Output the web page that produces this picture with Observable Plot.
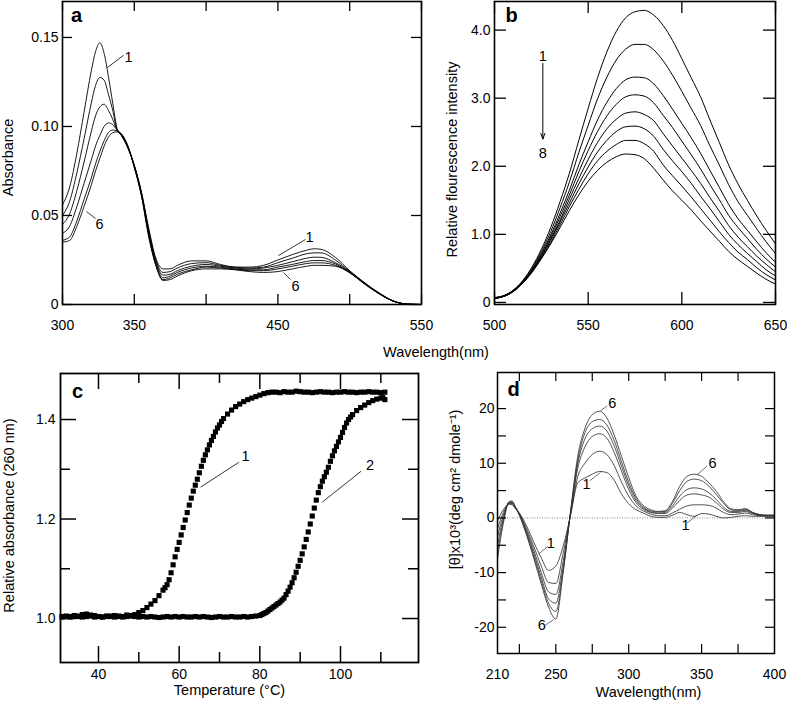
<!DOCTYPE html>
<html><head><meta charset="utf-8">
<script src="https://cdn.jsdelivr.net/npm/d3@7"></script>
<script src="https://cdn.jsdelivr.net/npm/@observablehq/plot@0.6"></script>
<style>
body{margin:0;background:#fff;}
#wrap{position:relative;width:787px;height:703px;overflow:hidden;font-family:"Liberation Sans",Arial,Helvetica,sans-serif;background:#fff;}
.pane{position:absolute;}
.pane svg{display:block;max-width:none;background:transparent;}
.lbl{position:absolute;font-size:14.5px;color:#000;white-space:nowrap;text-align:center;}
</style></head><body><div id="wrap"></div>
<script>
// ---------- Panel a : absorbance spectra (6 curves) ----------
const aWave = [300,305,310,315,320,323,326,329,332,335,338,341,345,350,355,360,365,370,375,380,390,400,410,420,430,440,450,460,470,475,480,490,500,510,520,530,540,550];
const a1 = [0.056,0.066,0.085,0.108,0.131,0.142,0.147,0.141,0.128,0.113,0.099,0.095,0.089,0.078,0.063,0.043,0.026,0.020,0.020,0.022,0.0245,0.0245,0.0225,0.021,0.021,0.022,0.025,0.028,0.0305,0.0313,0.031,0.0265,0.019,0.0125,0.0068,0.0022,0.0002,0];
const a2 = [0.050,0.058,0.074,0.093,0.113,0.123,0.1275,0.126,0.118,0.109,0.098,0.095,0.089,0.078,0.063,0.042,0.025,0.018,0.0185,0.0205,0.023,0.0235,0.022,0.021,0.0205,0.021,0.0235,0.026,0.0285,0.029,0.029,0.025,0.0185,0.0122,0.0066,0.0021,0.0002,0];
const a3 = [0.045,0.051,0.064,0.080,0.097,0.106,0.111,0.1125,0.109,0.104,0.098,0.095,0.089,0.078,0.062,0.041,0.024,0.0165,0.017,0.019,0.0215,0.0225,0.0215,0.0205,0.020,0.0205,0.022,0.024,0.026,0.0266,0.0265,0.0235,0.0185,0.012,0.0065,0.002,0.0002,0];
const a4 = [0.040,0.044,0.055,0.068,0.081,0.089,0.095,0.100,0.102,0.101,0.098,0.0955,0.090,0.078,0.062,0.040,0.023,0.015,0.016,0.018,0.0205,0.0215,0.021,0.020,0.0195,0.0195,0.021,0.0225,0.0242,0.0247,0.0247,0.0228,0.018,0.012,0.0064,0.002,0.0002,0];
const a5 = [0.036,0.038,0.047,0.059,0.071,0.079,0.086,0.092,0.0965,0.098,0.0975,0.096,0.090,0.077,0.061,0.039,0.022,0.014,0.015,0.017,0.0195,0.021,0.0205,0.0198,0.019,0.019,0.020,0.0215,0.023,0.0234,0.0234,0.022,0.018,0.0118,0.0063,0.002,0.0002,0];
const a6 = [0.035,0.036,0.044,0.055,0.067,0.075,0.082,0.089,0.094,0.0965,0.097,0.0955,0.090,0.077,0.061,0.038,0.022,0.0135,0.014,0.016,0.019,0.020,0.020,0.0195,0.0185,0.018,0.0185,0.020,0.0215,0.022,0.022,0.0215,0.0178,0.0117,0.0062,0.002,0.0002,0];
const aXTickLabels = [300,350,450,550];
const aXTicks = [300,350,400,450,500,550];
const aYTicks = [0,0.05,0.10,0.15];
const aNotes = [{x:346,y:0.1388,t:"1"},{x:325.8,y:0.045,t:"6"},{x:472,y:0.0376,t:"1"},{x:462.3,y:0.0101,t:"6"}];
const aLeaders = [{x1:331.3,y1:0.1331,x2:342.5,y2:0.140},{x1:316.7,y1:0.0522,x2:323,y2:0.0483},{x1:450.4,y1:0.0275,x2:469.2,y2:0.0365},{x1:453.9,y1:0.018,x2:458.8,y2:0.014}];

// ---------- Panel b : fluorescence spectra (8 curves) ----------
const bWave = [500,505,510,515,520,525,530,535,540,545,550,555,560,565,570,575,580,585,590,595,600,605,610,615,620,625,630,635,640,645,650];
const b1 = [0.07,0.10,0.18,0.32,0.52,0.78,1.10,1.48,1.90,2.38,2.85,3.30,3.68,3.98,4.18,4.27,4.29,4.22,4.07,3.85,3.58,3.30,3.02,2.68,2.35,2.02,1.74,1.50,1.27,1.06,0.86];
const b2 = [0.07,0.10,0.18,0.31,0.50,0.75,1.04,1.39,1.77,2.20,2.60,2.99,3.31,3.56,3.72,3.79,3.79,3.71,3.55,3.34,3.10,2.85,2.60,2.30,2.02,1.73,1.48,1.28,1.08,0.89,0.72];
const b3 = [0.07,0.10,0.17,0.30,0.48,0.72,0.99,1.31,1.65,2.02,2.36,2.68,2.94,3.14,3.27,3.31,3.30,3.21,3.04,2.84,2.63,2.42,2.19,1.94,1.69,1.44,1.23,1.06,0.89,0.73,0.59];
const b4 = [0.06,0.09,0.17,0.30,0.47,0.70,0.96,1.26,1.58,1.92,2.23,2.51,2.74,2.91,3.02,3.05,3.03,2.93,2.75,2.57,2.37,2.17,1.96,1.73,1.51,1.28,1.10,0.94,0.78,0.64,0.52];
const b5 = [0.06,0.09,0.17,0.29,0.46,0.68,0.93,1.21,1.52,1.82,2.10,2.35,2.55,2.69,2.78,2.80,2.76,2.67,2.48,2.30,2.12,1.94,1.75,1.54,1.34,1.13,0.96,0.82,0.68,0.56,0.45];
const b6 = [0.06,0.09,0.16,0.29,0.46,0.67,0.91,1.18,1.46,1.74,1.99,2.21,2.38,2.51,2.58,2.59,2.55,2.44,2.25,2.08,1.92,1.75,1.56,1.38,1.19,1.00,0.85,0.72,0.60,0.48,0.39];
const b7 = [0.06,0.09,0.16,0.28,0.45,0.65,0.88,1.14,1.41,1.66,1.89,2.08,2.22,2.32,2.38,2.38,2.33,2.22,2.02,1.86,1.71,1.55,1.38,1.21,1.04,0.88,0.74,0.63,0.51,0.41,0.33];
const b8 = [0.06,0.09,0.16,0.28,0.44,0.64,0.86,1.10,1.35,1.58,1.78,1.94,2.06,2.14,2.18,2.17,2.11,1.97,1.80,1.64,1.50,1.36,1.20,1.05,0.90,0.75,0.63,0.53,0.43,0.34,0.27];
const bXTicks = [500,550,600,650];
const bYTicks = [0,1,2,3,4];
const bNotes = [{x:525.8,y:3.62,t:"1"},{x:525.8,y:2.19,t:"8"}];
const bArrow = [{x:525.8,y1:3.51,y2:2.40}];

// ---------- Panel c : melting curves (2 series of squares) ----------
const c1T = [31,32,33,34,35,36,37,38,39,40,41,42,43,44,45,46,47,48,49,50,51,52,53,54,55,56,56.5,57,57.5,58,58.5,59,59.5,60,60.5,61,61.5,62,62.5,63,63.5,64,64.5,65,65.5,66,66.5,67,67.5,68,68.5,69,69.5,70,70.5,71,72,73,74,75,76,77,78,79,80,81,82,83,84,85,86,87,88,89,90,91,92,93,94,95,96,97,98,99,100,101,102,103,104,105,106,107,108,109,110,111];
const c1V = [1.004,1.005,1.004,1.006,1.005,1.008,1.009,1.007,1.006,1.004,1.003,1.005,1.004,1.006,1.005,1.004,1.007,1.006,1.008,1.012,1.016,1.022,1.029,1.036,1.046,1.057,1.062,1.068,1.078,1.092,1.108,1.124,1.139,1.153,1.168,1.183,1.198,1.213,1.228,1.242,1.256,1.268,1.280,1.293,1.306,1.318,1.329,1.339,1.349,1.358,1.366,1.375,1.383,1.389,1.396,1.402,1.411,1.419,1.426,1.431,1.436,1.440,1.443,1.446,1.449,1.452,1.454,1.455,1.455,1.454,1.456,1.455,1.455,1.457,1.456,1.455,1.455,1.454,1.455,1.456,1.455,1.455,1.454,1.455,1.455,1.456,1.455,1.455,1.454,1.455,1.455,1.456,1.455,1.455,1.454,1.455];
const c2T = [31,32,33,34,35,36,37,38,39,40,41,42,43,44,45,46,47,48,49,50,51,52,53,54,55,56,57,58,59,60,61,62,63,64,65,66,67,68,69,70,71,72,73,74,75,76,77,78,79,80,80.5,81,81.5,82,82.5,83,83.5,84,84.5,85,85.5,86,86.5,87,87.5,88,88.5,89,89.5,90,90.5,91,91.5,92,92.5,93,93.5,94,94.5,95,95.5,96,96.5,97,97.5,98,98.5,99,99.5,100,100.5,101,101.5,102,102.5,103,104,105,106,107,108,109,110,110.5,111];
const c2V = [1.003,1.004,1.003,1.005,1.004,1.003,1.004,1.005,1.003,1.004,1.003,1.004,1.005,1.003,1.004,1.003,1.004,1.005,1.004,1.003,1.004,1.003,1.004,1.003,1.002,1.003,1.004,1.003,1.004,1.003,1.004,1.003,1.003,1.004,1.003,1.004,1.003,1.002,1.003,1.004,1.003,1.003,1.004,1.003,1.003,1.004,1.003,1.004,1.005,1.006,1.008,1.010,1.012,1.015,1.018,1.021,1.024,1.027,1.030,1.033,1.037,1.041,1.048,1.055,1.063,1.072,1.082,1.093,1.105,1.117,1.130,1.144,1.159,1.174,1.190,1.206,1.222,1.238,1.253,1.265,1.276,1.285,1.294,1.304,1.316,1.327,1.337,1.346,1.355,1.364,1.374,1.384,1.393,1.400,1.405,1.410,1.418,1.424,1.429,1.434,1.438,1.441,1.443,1.444,1.440];
const cXTickLabels = [40,60,80,100];
const cXMinor = [50,70,90,110];
const cYTickLabels = [1.0,1.2,1.4];
const cYMinor = [1.1,1.3];
const cNotes = [{x:76.45,y:1.3266,t:"1"},{x:107.3,y:1.3075,t:"2"}];
const cLeaders = [{x1:65.3,y1:1.264,x2:74.8,y2:1.314},{x1:95.5,y1:1.234,x2:105.1,y2:1.296}];

// ---------- Panel d : CD spectra (6 curves) ----------
const dWave = [210,214,218,220,222,226,230,235,240,245,250,255,260,265,270,275,280,285,290,295,300,305,310,315,320,325,330,335,340,345,350,355,360,365,370,375,380,385,390,395,400];
const d1 = [-0.5,1.5,2.5,2.4,1.8,0.5,-1.5,-4.5,-7.3,-9.6,-8.8,-5.2,0.3,6.4,7.3,8.0,8.5,8.3,6.9,4.4,2.6,1.5,0.9,0.3,0.1,0.1,0.5,1.0,0.6,0.3,0.8,0.7,0.3,0.0,0.1,0.3,0.4,0.3,0.3,0.3,0.3];
const d2 = [-2.0,1.0,2.6,2.6,2.0,0.3,-2.0,-5.3,-8.8,-11.8,-12.0,-6.5,0.5,7.5,10.0,11.6,12.2,11.6,9.6,6.6,4.0,2.2,1.3,0.7,0.4,0.4,0.9,1.6,2.2,2.4,2.4,2.3,1.8,1.0,0.6,0.7,0.9,0.6,0.4,0.4,0.4];
const d3 = [-3.5,0.5,2.7,2.7,2.0,0.2,-2.4,-6.0,-10.0,-13.5,-14.0,-8.0,0.6,9.0,13.0,14.9,15.4,14.6,12.0,8.6,5.2,2.8,1.6,1.0,0.8,0.8,1.8,3.2,4.2,4.4,4.2,3.8,2.8,1.6,1.0,1.0,1.2,0.8,0.5,0.4,0.4];
const d4 = [-5.0,0.0,2.8,2.8,2.0,0.1,-2.7,-6.6,-10.8,-14.8,-15.6,-9.0,0.7,9.8,14.5,16.3,16.8,15.9,13.2,9.5,5.9,3.2,1.8,1.1,0.9,1.0,2.2,4.0,5.2,5.5,5.3,4.6,3.4,2.0,1.2,1.2,1.4,0.9,0.5,0.4,0.4];
const d5 = [-6.3,-0.5,2.9,3.0,2.1,0.0,-3.0,-7.1,-11.5,-15.6,-17.1,-9.8,0.8,10.5,15.6,17.6,18.0,17.0,14.2,10.3,6.5,3.6,2.0,1.3,1.1,1.2,2.7,5.0,6.7,7.1,6.8,5.8,4.3,2.7,1.5,1.3,1.6,1.0,0.6,0.5,0.5];
const d6 = [-7.5,-1.0,3.0,3.1,2.2,-0.2,-3.2,-7.5,-12.1,-16.3,-18.5,-10.0,1.0,11.2,16.4,18.9,19.5,18.3,15.2,11.3,7.4,4.0,2.3,1.5,1.2,1.3,3.0,5.8,7.6,8.0,7.6,6.4,4.9,3.0,1.7,1.5,1.7,1.0,0.6,0.5,0.5];
const dXTickLabels = [210,250,300,350,400];
const dXTicks = [225,250,275,300,325,350,375];
const dYTickLabels = [-20,-10,0,10,20];
const dYTicks = [-20,-15,-10,-5,0,5,10,15,20];
const dNotes = [{x:288.7,y:20.9,t:"6"},{x:357.5,y:9.9,t:"6"},{x:271,y:6.1,t:"1"},{x:246.6,y:-4.6,t:"1"},{x:240.4,y:-19.6,t:"6"},{x:338.9,y:-1.3,t:"1"}];
const dLeaders = [{x1:280.6,y1:19.6,x2:285.2,y2:20.5},{x1:347,y1:7.9,x2:353.8,y2:9.5},{x1:273.3,y1:6.8,x2:280.6,y2:8.3},{x1:238.3,y1:-6.6,x2:244.5,y2:-5.2},{x1:242.9,y1:-19.6,x2:248.6,y2:-18.6},{x1:340.1,y1:-0.9,x2:347,y2:0.5}];

// ---------- helpers ----------
const FONT = '"Liberation Sans", Arial, Helvetica, sans-serif';
function longify(xs, list) {
  const out = [];
  list.forEach((ys, k) => {
    if (ys.length !== xs.length) throw new Error("length mismatch in series " + (k + 1) + ": " + ys.length + " vs " + xs.length);
    ys.forEach((v, i) => out.push({x: xs[i], y: v, s: k + 1}));
  });
  return out;
}
function pairs(xs, ys) {
  if (xs.length !== ys.length) throw new Error("pair mismatch " + xs.length + " vs " + ys.length);
  return xs.map((x, i) => ({x, y: ys[i]}));
}
// inward ticks on all four sides, drawn as short rules through the scales
function inTicks(xt, yt, len, innerW, innerH, sw = 1.3) {
  return [
    Plot.ruleX(xt, {x: d => d, insetTop: innerH - len, strokeWidth: sw}),
    Plot.ruleX(xt, {x: d => d, insetBottom: innerH - len, strokeWidth: sw}),
    Plot.ruleY(yt, {y: d => d, insetRight: innerW - len, strokeWidth: sw}),
    Plot.ruleY(yt, {y: d => d, insetLeft: innerW - len, strokeWidth: sw})
  ];
}
function labelAxes(xl, xfmt, xpad, yl, yfmt, ypad) {
  return [
    Plot.axisX(xl, {anchor: "bottom", tickSize: 0, tickPadding: xpad, tickFormat: xfmt, fontSize: 14, label: null}),
    Plot.axisY(yl, {anchor: "left", tickSize: 0, tickPadding: ypad, tickFormat: yfmt, fontSize: 14, label: null})
  ];
}
const CENTER = {textAnchor: "middle", lineAnchor: "middle"};
function letter(ch, dx, dy) {
  return Plot.text([ch], {text: d => d, frameAnchor: "top-left", dx, dy, fontSize: 20, fontWeight: "bold", ...CENTER});
}
function ylabel(txt, dx, dy) {
  return Plot.text([txt], {text: d => d, frameAnchor: "left", rotate: -90, dx, dy, fontSize: 14.5, ...CENTER});
}
function xlabel(txt, dx, dy) {
  return Plot.text([txt], {text: d => d, frameAnchor: "bottom", dx, dy, fontSize: 14.5, ...CENTER});
}
const wrap = document.getElementById("wrap");
function place(node, left, top) {
  const d = document.createElement("div");
  d.className = "pane";
  d.style.left = left + "px"; d.style.top = top + "px";
  d.appendChild(node); wrap.appendChild(d);
}
const baseStyle = {fontFamily: FONT, fontSize: "14px", background: "transparent", overflow: "visible", color: "black"};

// ---------- Panel a ----------
{
  const W = 440, H = 345, mL = 62, mR = 19, mT = 1, mB = 41;
  const iw = W - mL - mR, ih = H - mT - mB;
  const data = longify(aWave, [a1, a2, a3, a4, a5, a6]);
  place(Plot.plot({
    width: W, height: H, marginLeft: mL, marginRight: mR, marginTop: mT, marginBottom: mB,
    style: baseStyle,
    x: {domain: [300, 550]}, y: {domain: [0, 0.1702]},
    marks: [
      Plot.line(data, {x: "x", y: "y", z: "s", curve: "monotone-x", stroke: "black", strokeWidth: 0.9}),
      Plot.link(aLeaders, {x1: "x1", y1: "y1", x2: "x2", y2: "y2", stroke: "black", strokeWidth: 0.8}),
      Plot.text(aNotes, {x: "x", y: "y", text: "t", fontSize: 14.5, ...CENTER}),
      ...inTicks(aXTicks, aYTicks, 10, iw, ih),
      ...labelAxes(aXTickLabels, d => String(d), 15.5, aYTicks, d => d === 0 ? "0" : d.toFixed(2), 4),
      ylabel("Absorbance", -54.5, 4.5),
      letter("a", 14, 14),
      Plot.frame({strokeWidth: 1.6})
    ]
  }), 0, 0);
}

// ---------- Panel b ----------
{
  const W = 357, H = 345, mL = 64, mR = 12, mT = 1, mB = 41;
  const iw = W - mL - mR, ih = H - mT - mB;
  const data = longify(bWave, [b1, b2, b3, b4, b5, b6, b7, b8]);
  place(Plot.plot({
    width: W, height: H, marginLeft: mL, marginRight: mR, marginTop: mT, marginBottom: mB,
    style: baseStyle,
    x: {domain: [500, 650]}, y: {domain: [-0.03, 4.42]},
    marks: [
      Plot.line(data, {x: "x", y: "y", z: "s", curve: "monotone-x", stroke: "black", strokeWidth: 1}),
      Plot.arrow(bArrow, {x1: "x", y1: "y1", x2: "x", y2: "y2", stroke: "black", strokeWidth: 1, headLength: 9, headAngle: 40}),
      Plot.text(bNotes, {x: "x", y: "y", text: "t", fontSize: 14.5, ...CENTER}),
      ...inTicks(bXTicks, bYTicks, 12, iw, ih),
      ...labelAxes(bXTicks, d => String(d), 15.5, bYTicks, d => d === 0 ? "0" : d.toFixed(1), 4),
      ylabel("Relative flourescence intensity", -42, 6.5),
      letter("b", 17, 14),
      Plot.frame({strokeWidth: 1.6})
    ]
  }), 430, 0);
}

// ---------- Panel c ----------
{
  const W = 430, H = 358, mL = 60, mR = 12, mT = 28, mB = 41;
  const iw = W - mL - mR, ih = H - mT - mB;
  place(Plot.plot({
    width: W, height: H, marginLeft: mL, marginRight: mR, marginTop: mT, marginBottom: mB,
    style: baseStyle,
    x: {domain: [30.58, 119.34]}, y: {domain: [0.9116, 1.4925]},
    marks: [
      Plot.dot(pairs(c1T, c1V), {x: "x", y: "y", symbol: "square", r: 2.9, fill: "black", stroke: "none"}),
      Plot.dot(pairs(c2T, c2V), {x: "x", y: "y", symbol: "square", r: 2.9, fill: "black", stroke: "none"}),
      Plot.link(cLeaders, {x1: "x1", y1: "y1", x2: "x2", y2: "y2", stroke: "black", strokeWidth: 0.8}),
      Plot.text(cNotes, {x: "x", y: "y", text: "t", fontSize: 14.5, ...CENTER}),
      ...inTicks(cXTickLabels, cYTickLabels, 16, iw, ih, 1.5),
      ...inTicks(cXMinor, cYMinor, 10, iw, ih, 1.5),
      ...labelAxes(cXTickLabels, d => String(d), 7, cYTickLabels, d => d.toFixed(1), 5),
      ylabel("Relative absorbance (260 nm)", -51.5, -2.5),
      xlabel("Temperature (°C)", -10, 28),
      letter("c", 17, 18),
      Plot.frame({strokeWidth: 1.8})
    ]
  }), 0, 345);
}

// ---------- Panel d ----------
{
  const W = 357, H = 358, mL = 67, mR = 13, mT = 27, mB = 50;
  const iw = W - mL - mR, ih = H - mT - mB;
  const data = longify(dWave, [d1, d2, d3, d4, d5, d6]);
  place(Plot.plot({
    width: W, height: H, marginLeft: mL, marginRight: mR, marginTop: mT, marginBottom: mB,
    style: baseStyle,
    x: {domain: [210, 400]}, y: {domain: [-24.8, 26.6]},
    marks: [
      Plot.ruleY([0], {stroke: "#777", strokeWidth: 0.9, strokeDasharray: "1,1.5"}),
      Plot.line(data, {x: "x", y: "y", z: "s", curve: "monotone-x", stroke: "#333", strokeWidth: 0.85}),
      Plot.link(dLeaders, {x1: "x1", y1: "y1", x2: "x2", y2: "y2", stroke: "#333", strokeWidth: 0.7}),
      Plot.text(dNotes, {x: "x", y: "y", text: "t", fontSize: 14.5, ...CENTER}),
      ...inTicks(dXTicks, dYTicks, 9, iw, ih, 1.2),
      ...labelAxes(dXTickLabels, d => String(d), 16, dYTickLabels, d => String(d), 3),
      ylabel("[θ]x10³(deg cm² dmole⁻¹)", -42, -23.5),
      xlabel("Wavelength(nm)", 12.5, 39),
      letter("d", 16, 17),
      Plot.frame({strokeWidth: 1.5})
    ]
  }), 430, 345);
}

// shared x label for panels a and b
const wl = document.createElement("div");
wl.className = "lbl";
wl.textContent = "Wavelength(nm)";
wl.style.left = "376px"; wl.style.width = "120px"; wl.style.top = "343px"; wl.style.lineHeight = "18px";
wrap.appendChild(wl);
</script></body></html>
